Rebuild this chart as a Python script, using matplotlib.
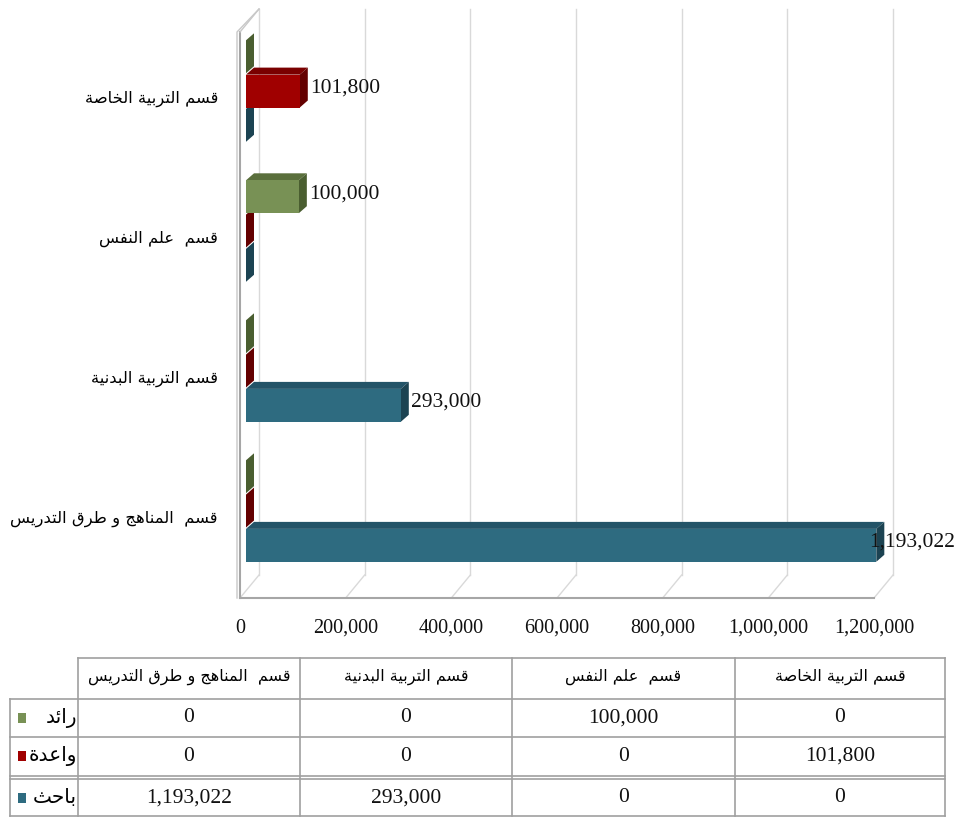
import matplotlib
matplotlib.use("Agg")
import matplotlib.pyplot as plt
from matplotlib.patches import Polygon, Rectangle

# --- data -----------------------------------------------------------------
categories = ["قسم  المناهج و طرق التدريس", "قسم التربية البدنية",
              "قسم  علم النفس", "قسم التربية الخاصة"]          # bottom -> top
series_names = ["رائد", "واعدة", "باحث"]
raed = [0, 0, 100000, 0]
waeda = [0, 0, 0, 101800]
bahith = [1193022, 293000, 0, 0]
xticks = [0, 200000, 400000, 600000, 800000, 1000000, 1200000]

front_col = ["#789155", "#a00000", "#2e6b80"]
top_col = ["#5a6f3c", "#7a0000", "#245468"]
end_col = ["#4a5e30", "#640000", "#1c4352"]

# --- arabic shaping (matplotlib has no bidi / joining) -----------------------
FORMS = {"ئ": (0xFE89, 4), "ا": (0xFE8D, 2), "ب": (0xFE8F, 4), "ة": (0xFE93, 2),
         "ت": (0xFE95, 4), "ث": (0xFE99, 4), "ج": (0xFE9D, 4), "ح": (0xFEA1, 4),
         "خ": (0xFEA5, 4), "د": (0xFEA9, 2), "ر": (0xFEAD, 2), "س": (0xFEB1, 4),
         "ص": (0xFEB9, 4), "ط": (0xFEC1, 4), "ع": (0xFEC9, 4), "ف": (0xFED1, 4),
         "ق": (0xFED5, 4), "ل": (0xFEDD, 4), "م": (0xFEE1, 4), "ن": (0xFEE5, 4),
         "ه": (0xFEE9, 4), "و": (0xFEED, 2), "ي": (0xFEF1, 4)}


def ar(s):
    out = []
    for i, ch in enumerate(s):
        if ch not in FORMS:
            out.append(ch)
            continue
        base, n = FORMS[ch]
        prev = s[i - 1] if i > 0 else ""
        nxt = s[i + 1] if i + 1 < len(s) else ""
        jp = prev in FORMS and FORMS[prev][1] == 4
        jn = n == 4 and nxt in FORMS
        off = 3 if (jp and jn) else 1 if jp else 2 if jn else 0
        out.append(chr(base + off))
    return "".join(reversed(out))


NUMFONT = ["Liberation Serif", "DejaVu Sans"]
ARFONT = ["DejaVu Sans"]

W, H = 957, 821
fig = plt.figure(figsize=(W / 100, H / 100), dpi=100)
fig.patch.set_facecolor("white")

# main axes: front plane of the pseudo 3d chart
ax_l, ax_r, ax_t, ax_b = 240, 874, 32, 598
ax = fig.add_axes([ax_l / W, (H - ax_b) / H, (ax_r - ax_l) / W, (ax_b - ax_t) / H])
ax.set_xlim(0, 1.2e6)
ax.set_ylim(-0.564, 3.479)
ax.axis("off")
pxx = (ax_r - ax_l) / 1.2e6
pxy = (ax_b - ax_t) / (3.479 + 0.564)


def d(dxp, dyp):
    return dxp / pxx, dyp / pxy


y0, y1 = ax.get_ylim()
bx, by = d(19, 23)        # back wall depth
# back wall gridlines + floor diagonals
for t in xticks:
    ax.plot([t + bx, t + bx], [y0 + by, y1 + by], color="#d9d9d9", lw=1, zorder=1, clip_on=False)
    ax.plot([t, t + bx], [y0, y0 + by], color="#d9d9d9", lw=1, zorder=1, clip_on=False)
# floor front edge and side wall
ax.plot([0, xticks[-1]], [y0, y0], color="#a6a6a6", lw=1.5, zorder=2, clip_on=False)
ax.plot([0, 0], [y0, y1], color="#a6a6a6", lw=1.5, zorder=2, clip_on=False)
wx, _ = d(-3, 0)
ax.plot([wx, wx, bx], [y0, y1, y1 + by], color="#c8c8c8", lw=1, zorder=2, clip_on=False)
ax.plot([0, bx], [y1, y1 + by], color="#c8c8c8", lw=1, zorder=2, clip_on=False)

# bars with depth
fx, fy = d(6, 8)
kx, ky = d(14, 15)
h = 0.235
offsets = [0.245, 0.0, -0.245]
data = [raed, waeda, bahith]
z = 3
for i in range(len(categories)):
    for s in [2, 1, 0]:
        v = data[s][i]
        yc = i + offsets[s]
        a, b = yc - h / 2, yc + h / 2
        ax.add_patch(Polygon([(fx, b + fy), (v + fx, b + fy), (v + kx, b + ky), (kx, b + ky)],
                             closed=True, fc=top_col[s], ec="none", zorder=z, clip_on=False))
        ax.add_patch(Polygon([(v + fx, a + fy), (v + fx, b + fy), (v + kx, b + ky), (v + kx, a + ky)],
                             closed=True, fc=end_col[s], ec="none", zorder=z, clip_on=False))
        if v > 0:
            ax.add_patch(Rectangle((fx, a + fy), v, h, fc=front_col[s], ec="none", zorder=z,
                                   clip_on=False))
            tx, ty = d(16, 11)
            ax.text(v + tx, yc + ty, f"{v:,}", ha="left", va="center", fontsize=15.5,
                    family=NUMFONT, color="#111111", zorder=10, clip_on=False)
        z += 1

# keep value labels inside the figure
fig.canvas.draw()
r = fig.canvas.get_renderer()
for t in ax.texts:
    bb = t.get_window_extent(r)
    if bb.x1 > W - 2:
        x_disp, y_disp = ax.transData.transform(t.get_position())
        t.set_position(ax.transData.inverted().transform((x_disp - (bb.x1 - (W - 2)), y_disp)))

# axis labels
for t in xticks:
    ax.text(t, y0 - 21 / pxy, f"{t:,}", ha="center", va="top", fontsize=14.5, family=NUMFONT,
            color="#111111", clip_on=False)
for i, c in enumerate(categories):
    ax.text(-22 / pxx, i, ar(c), ha="right", va="center", fontsize=11.8,
            family=ARFONT, color="#000000", clip_on=False)

# --- data table ------------------------------------------------------------
tax = fig.add_axes([0, 0, 1, 1])
tax.set_xlim(0, W)
tax.set_ylim(H, 0)
tax.axis("off")
tax.patch.set_alpha(0)
cols = [78, 300, 512, 735, 945]
rows = [658, 699, 737, 776, 816]
lc = "#a0a0a0"
tax.plot([cols[0], cols[-1]], [rows[0], rows[0]], color=lc, lw=1.2)
for yy in rows[1:]:
    tax.plot([10, cols[-1]], [yy, yy], color=lc, lw=1.2)
tax.plot([10, cols[-1]], [rows[3] + 3, rows[3] + 3], color=lc, lw=1.2)
tax.plot([10, 10], [rows[1], rows[-1]], color=lc, lw=1.2)
for xx in cols:
    tax.plot([xx, xx], [rows[0], rows[-1]], color=lc, lw=1.2)

for j, c in enumerate(categories):
    tax.text((cols[j] + cols[j + 1]) / 2, (rows[0] + rows[1]) / 2 - 2, ar(c), ha="center",
             va="center", fontsize=11.5, family=ARFONT, color="#000000")
for s, name in enumerate(series_names):
    yc = (rows[s + 1] + rows[s + 2]) / 2 + (2 if s == 2 else 0)
    tax.add_patch(Rectangle((18, yc - 5), 8, 10, fc=front_col[s], ec="none"))
    tax.text(77, yc, ar(name), ha="right", va="center", fontsize=14.5,
             family=ARFONT, color="#000000")
    for j in range(len(categories)):
        tax.text((cols[j] + cols[j + 1]) / 2, yc, f"{data[s][j]:,}", ha="center",
                 va="center", fontsize=15.5, family=NUMFONT, color="#111111")

fig.savefig("out.png", dpi=100, facecolor="white")
